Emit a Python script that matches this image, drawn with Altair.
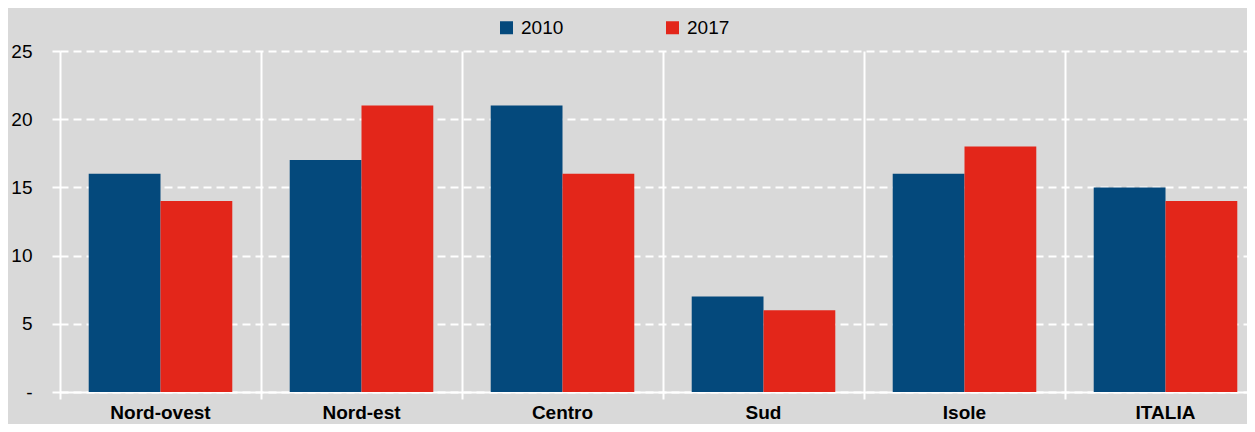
import altair as alt
import pandas as pd

regions = ["Nord-ovest", "Nord-est", "Centro", "Sud", "Isole", "ITALIA"]
v2010 = [16, 17, 21, 7, 16, 15]
v2017 = [14, 21, 16, 6, 18, 14]
years = ["2010", "2017"]
colors = ["#04497c", "#e3261a"]
y_ticks = [0, 5, 10, 15, 20, 25]

rows = []
for r, a, b in zip(regions, v2010, v2017):
    rows.append({"region": r, "year": years[0], "value": a})
    rows.append({"region": r, "year": years[1], "value": b})
df = pd.DataFrame(rows)

FONT = "Liberation Sans, Arial, sans-serif"

chart = alt.Chart(df).mark_bar().encode(
    x=alt.X("region:N", sort=regions, title=None,
            scale=alt.Scale(paddingInner=0, paddingOuter=0),
            axis=alt.Axis(bandPosition=0, grid=True, gridColor="white", gridWidth=2,
                          gridOpacity=1, domainColor="white", domainWidth=2,
                          tickColor="white", tickWidth=2, tickSize=7,
                          labelAngle=0, labelFont=FONT, labelFontSize=19,
                          labelFontWeight="bold", labelColor="black",
                          labelPadding=4, labelAlign="center")),
    xOffset=alt.XOffset("year:N", sort=years,
                        scale=alt.Scale(paddingOuter=0.4, paddingInner=0)),
    y=alt.Y("value:Q", title=None,
            scale=alt.Scale(domain=[0, 25], nice=False),
            axis=alt.Axis(values=y_ticks, grid=True, gridColor="white", gridWidth=2,
                          gridDash=[8, 5], gridOpacity=1, domain=False,
                          tickColor="white", tickWidth=2, tickSize=8,
                          labelExpr="datum.value == 0 ? '-' : datum.label",
                          labelFont=FONT, labelFontSize=19, labelColor="black",
                          labelPadding=20)),
    color=alt.Color("year:N", sort=years,
                    scale=alt.Scale(domain=years, range=colors),
                    legend=alt.Legend(title=None, orient="none", legendX=437, legendY=-33,
                                      direction="horizontal", columns=2,
                                      columnPadding=99, symbolType="square",
                                      symbolSize=169, symbolStrokeWidth=0,
                                      labelOffset=5, labelFont=FONT, labelFontSize=19,
                                      labelColor="black", padding=0)),
).properties(
    width=1206,
    height=341,
    autosize=alt.AutoSizeParams(type="none"),
    padding={"left": 52, "top": 43, "right": -19, "bottom": 32},
    background="#d9d9d9",
).configure_view(
    fill="#d9d9d9", stroke=None
)

chart.save("out.html", embed_options={"renderer": "svg", "actions": False})
